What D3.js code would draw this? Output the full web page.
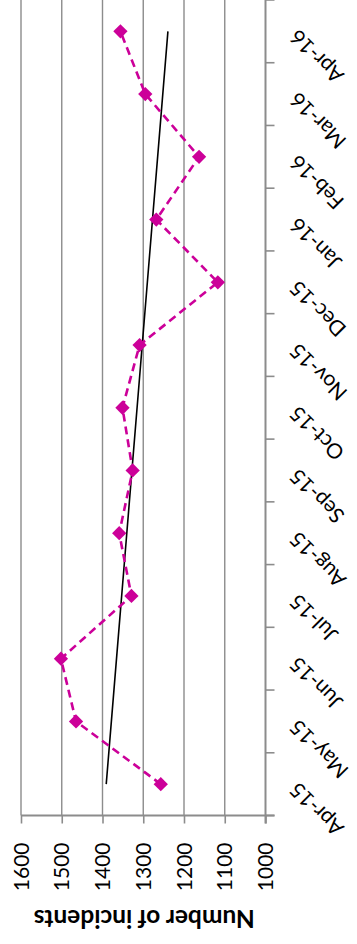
<!DOCTYPE html>
<html>
<head>
<meta charset="utf-8">
<script src="https://cdn.jsdelivr.net/npm/d3@7"></script>
<style>
  html, body { margin: 0; padding: 0; background: #fff; }
  svg { display: block; }
  text { font-family: Lato, "Open Sans", "Liberation Sans", sans-serif; fill: #000; }
</style>
</head>
<body>
<svg id="chart" width="357" height="944"></svg>
<script>
// Monthly incident counts, April 2015 to April 2016
const months = ["Apr-15", "May-15", "Jun-15", "Jul-15", "Aug-15", "Sep-15", "Oct-15",
                "Nov-15", "Dec-15", "Jan-16", "Feb-16", "Mar-16", "Apr-16"];
const incidents = [1257, 1465, 1502, 1329, 1359, 1326, 1351, 1309, 1117, 1268, 1163, 1295, 1356];
const valueTicks = [1600, 1500, 1400, 1300, 1200, 1100, 1000];
const axisTitle = "Number of incidents";

const svg = d3.select("#chart");

// Layout: chart is turned on its side, values run right-to-left along the bottom,
// months run bottom-to-top along the right.
const plot = { left: 21, right: 265.5, top: 0, bottom: 815.5 };

const x = d3.scaleLinear().domain([1600, 1000]).range([plot.left, plot.right]);
const y = d3.scaleBand().domain(months).range([plot.bottom, plot.top]).padding(0);
const yc = m => y(m) + y.bandwidth() / 2;

const gridColor = "#8c8c8c";
const markColor = "#cc0099";

// Vertical gridlines
svg.append("g")
  .selectAll("line")
  .data(valueTicks.filter(v => v !== 1000))
  .join("line")
  .attr("x1", d => x(d)).attr("x2", d => x(d))
  .attr("y1", plot.top).attr("y2", plot.bottom)
  .attr("stroke", gridColor).attr("stroke-width", 1.4);

// Value axis (bottom)
const xAxis = d3.axisBottom(x).tickValues(valueTicks).tickSize(8).tickFormat("");
const gx = svg.append("g").attr("transform", `translate(0,${plot.bottom})`).call(xAxis);
gx.select(".domain").remove();
gx.selectAll(".tick line").attr("stroke", gridColor).attr("stroke-width", 1.6);
gx.append("line")
  .attr("x1", plot.left).attr("x2", plot.right + 9)
  .attr("stroke", gridColor).attr("stroke-width", 2);

// Value tick labels, reading upward
svg.append("g")
  .selectAll("text")
  .data(valueTicks)
  .join("text")
  .attr("transform", d => `translate(${x(d)},${plot.bottom + 27}) rotate(-90)`)
  .attr("text-anchor", "end")
  .attr("dy", "0.36em")
  .style("font-size", "21px")
  .text(d => d);

// Axis title, upside down
svg.append("text")
  .attr("transform", `translate(${(plot.left + plot.right) / 2 + 1},${plot.bottom + 103}) rotate(180)`)
  .attr("text-anchor", "middle")
  .attr("dy", "0.35em")
  .style("font-size", "24.5px")
  .style("font-weight", "bold")
  .text(axisTitle);

// Category axis (right side), ticks between months
const boundaries = d3.range(months.length + 1).map(i => plot.bottom - i * y.bandwidth());
const gy = svg.append("g");
gy.append("line")
  .attr("x1", plot.right).attr("x2", plot.right)
  .attr("y1", plot.top).attr("y2", plot.bottom + 8)
  .attr("stroke", gridColor).attr("stroke-width", 2);
gy.selectAll("line.tick")
  .data(boundaries)
  .join("line")
  .attr("class", "tick")
  .attr("x1", plot.right).attr("x2", plot.right + 9)
  .attr("y1", d => d).attr("y2", d => d)
  .attr("stroke", gridColor).attr("stroke-width", 1.6);

// Month labels, diagonal
svg.append("g")
  .selectAll("text")
  .data(months)
  .join("text")
  .attr("transform", m => `translate(${plot.right + 28},${yc(m) + 2}) rotate(-135)`)
  .attr("text-anchor", "end")
  .attr("dy", "0.35em")
  .style("font-size", "21px")
  .text(m => m);

// Linear trend (least squares over month index)
const idx = months.map((_, i) => i);
const mx = d3.mean(idx), my = d3.mean(incidents);
const slope = d3.sum(idx, i => (i - mx) * (incidents[i] - my)) / d3.sum(idx, i => (i - mx) ** 2);
const intercept = my - slope * mx;
const trend = idx.map(i => intercept + slope * i);

const line = d3.line().x(d => x(d[1])).y(d => yc(d[0]));

svg.append("path")
  .datum(months.map((m, i) => [m, trend[i]]))
  .attr("d", line)
  .attr("fill", "none")
  .attr("stroke", "#000")
  .attr("stroke-width", 1.6);

// Incident series
svg.append("path")
  .datum(months.map((m, i) => [m, incidents[i]]))
  .attr("d", line)
  .attr("fill", "none")
  .attr("stroke", markColor)
  .attr("stroke-width", 2.6)
  .attr("stroke-dasharray", "8,5");

svg.append("g")
  .selectAll("path")
  .data(months.map((m, i) => [m, incidents[i]]))
  .join("path")
  .attr("transform", d => `translate(${x(d[1])},${yc(d[0])})`)
  .attr("d", d3.symbol(d3.symbolDiamond2, 130)())
  .attr("fill", markColor);
</script>
</body>
</html>
